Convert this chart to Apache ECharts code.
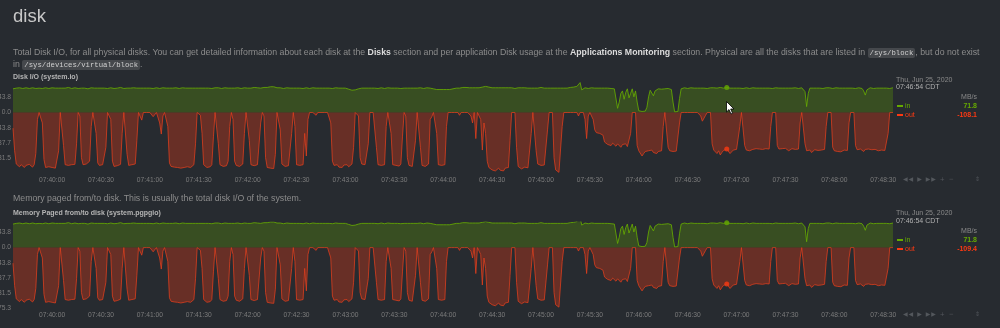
<!DOCTYPE html>
<html>
<head>
<meta charset="utf-8">
<script src="https://cdn.jsdelivr.net/npm/echarts@6/dist/echarts.min.js"></script>
<style>
  body { margin:0; background:#272b30; font-family:"Liberation Sans", Arial, sans-serif; }
  #main { position:absolute; left:0; top:0; width:1000px; height:328px; }
  .t { position:absolute; white-space:nowrap; }
  .desc { left:13px; font-size:8.75px; line-height:11.7px; color:#8c8c8c; }
  .desc b { color:#dcdcdc; }
  .code { font-family:"Liberation Mono", monospace; font-size:7.3px; background:#45484c; color:#d0d0d0; padding:1px 2px; border-radius:2px; }
  .ctitle { left:13px; font-size:7px; font-weight:bold; color:#b4b4b4; line-height:10px; }
  .side { left:896px; font-size:7px; color:#8a8a8a; line-height:9px; }
  .unit { left:940px; width:37px; text-align:right; font-size:7px; color:#8a8a8a; line-height:9px; }
  .lg { left:897px; font-size:7px; line-height:9px; }
  .lg i { display:inline-block; width:6px; height:2px; vertical-align:middle; margin-right:2px; }
  .val { left:930px; width:47px; text-align:right; font-size:7px; font-weight:bold; line-height:9px; }
  .ctrl { left:903px; font-family:"DejaVu Sans", sans-serif; font-size:6px; color:#53575c; line-height:9px; letter-spacing:1px; }
</style>
</head>
<body>
<div id="main"></div>

<div class="t" style="left:13px;top:6px;font-size:18.5px;line-height:20px;color:#c8c8c8">disk</div>
<div class="t desc" style="top:46.5px">Total Disk I/O, for all physical disks. You can get detailed information about each disk at the <b>Disks</b> section and per application Disk usage at the <b>Applications Monitoring</b> section. Physical are all the disks that are listed in <span class="code">/sys/block</span>, but do not exist<br>in <span class="code">/sys/devices/virtual/block</span>.</div>
<div class="t ctitle" style="top:72.3px">Disk I/O (system.io)</div>

<div class="t side" style="top:74.5px">Thu, Jun 25, 2020</div>
<div class="t side" style="top:82.2px;color:#b0b0b0">07:46:54 CDT</div>
<div class="t unit" style="top:92.2px">MB/s</div>
<div class="t lg" style="top:100.5px;color:#66aa00"><i style="background:#66aa00"></i>in</div>
<div class="t val" style="top:100.5px;color:#66aa00">71.8</div>
<div class="t lg" style="top:109.5px;color:#fe3912"><i style="background:#fe3912"></i>out</div>
<div class="t val" style="top:109.5px;color:#fe3912">-108.1</div>
<div class="t ctrl" style="top:173.5px">◀◀ ▶ ▶▶ + −</div>
<div class="t ctrl" style="top:173.5px;left:975px">⇕</div>

<div class="t desc" style="top:193.2px">Memory paged from/to disk. This is usually the total disk I/O of the system.</div>
<div class="t ctitle" style="top:207.7px">Memory Paged from/to disk (system.pgpgio)</div>

<div class="t side" style="top:207.8px">Thu, Jun 25, 2020</div>
<div class="t side" style="top:215.5px;color:#b0b0b0">07:46:54 CDT</div>
<div class="t unit" style="top:225.5px">MB/s</div>
<div class="t lg" style="top:234.8px;color:#66aa00"><i style="background:#66aa00"></i>in</div>
<div class="t val" style="top:234.8px;color:#66aa00">71.8</div>
<div class="t lg" style="top:243.8px;color:#fe3912"><i style="background:#fe3912"></i>out</div>
<div class="t val" style="top:243.8px;color:#fe3912">-109.4</div>
<div class="t ctrl" style="top:308.5px">◀◀ ▶ ▶▶ + −</div>
<div class="t ctrl" style="top:308.5px;left:975px">⇕</div>

<svg class="t" style="left:726px;top:101px" width="9" height="14" viewBox="0 0 9 14">
  <path d="M0.5 0.5 L0.5 11 L3 8.6 L5 13 L6.6 12.3 L4.7 8 L8 8 Z" fill="#ffffff" stroke="#000000" stroke-width="0.8"/>
</svg>

<script>
// one sample per second, starting at 07:39:36
var startSec = 7 * 3600 + 39 * 60 + 36;
var sampleCount = 541;
var hoverIndex = 438; // 07:46:54

// MB/s read (in)
var inValues = [
  68,69,70,69,71,70,69,70,71,70,
  69,70,71,70,69,70,70,71,69,70,
  71,70,69,70,71,70,70,69,70,71,
  70,69,70,71,72,70,69,70,71,70,
  69,70,70,71,70,69,68,70,71,70,
  70,71,70,69,70,71,70,70,69,70,
  71,70,69,70,70,71,72,70,69,70,
  70,71,70,69,71,70,70,69,70,71,
  70,69,70,71,70,70,69,70,71,70,
  69,70,71,70,70,69,70,71,70,70,
  71,70,69,70,71,70,70,69,70,71,
  70,69,70,71,70,71,70,69,70,71,
  70,70,69,70,71,70,71,70,69,70,
  71,70,70,69,70,71,70,70,71,70,
  69,70,71,70,70,69,70,71,72,70,
  71,70,70,71,72,71,72,73,74,76,
  74,72,71,70,71,70,69,70,71,70,
  70,71,70,69,70,71,70,70,69,70,
  71,70,69,70,71,70,70,69,70,71,
  70,69,70,71,70,70,69,70,71,70,
  70,71,70,69,70,68,67,66,64,62,
  65,67,68,69,70,69,70,71,70,69,
  70,71,70,70,69,70,71,70,69,70,
  71,70,70,69,70,71,70,70,69,70,
  70,71,70,69,70,71,70,69,70,70,
  71,70,69,70,71,70,70,69,68,67,
  66,65,66,65,66,67,66,65,66,67,
  68,69,70,71,70,71,72,73,72,71,
  71,70,71,72,71,70,71,72,73,74,
  75,74,73,72,71,72,71,70,71,72,
  71,70,71,72,71,70,71,70,69,70,
  71,70,71,72,71,70,70,71,70,69,
  70,71,70,71,72,71,70,71,70,71,
  70,69,70,71,70,71,70,69,70,71,
  70,71,72,74,73,78,75,80,86,65,
  70,71,70,69,70,71,70,70,69,70,
  71,70,69,70,71,70,70,69,70,68,
  66,12,30,55,62,38,58,68,42,55,
  68,45,62,30,5,2,3,1,4,15,
  45,64,66,48,62,67,68,66,67,69,
  68,67,69,66,66,30,2,2,3,40,
  68,70,71,70,69,70,71,70,70,71,
  70,69,70,71,70,70,69,70,71,70,
  71,70,70,71,72,71,70,71,71.8,71,
  70,71,70,69,70,71,70,70,69,70,
  71,70,69,70,71,70,70,69,70,71,
  70,69,70,71,70,70,69,70,71,70,
  70,71,70,69,70,71,70,69,70,70,
  71,70,69,70,71,70,60,17,55,70,
  71,70,69,70,71,70,70,69,70,71,
  70,71,70,69,70,71,70,70,69,70,
  71,70,69,70,71,70,70,69,70,71,
  70,69,62,50,65,70,71,70,69,70,
  70,71,70,69,70,71,70,70,69,70,
  71
];

// MB/s written (out)
var outValues = [
  -45,-110,-148,-153,-156,-150,-155,-158,-152,-155,
  -149,-154,-157,-150,-118,-20,0,0,-30,-135,
  -158,-160,-156,-161,-158,-155,-160,-157,-110,0,
  0,-95,-150,-155,-152,-156,-150,-153,-149,-90,
  0,-10,-130,-150,-145,-148,-152,-140,-40,0,
  0,-60,-145,-152,-155,-150,-153,-100,0,0,
  -20,-140,-155,-150,-153,-156,-149,-60,0,0,
  -120,-152,-155,-150,-154,-148,-80,0,0,-22,
  0,0,0,0,0,0,-12,-10,0,0,
  -30,-62,-10,0,0,-40,-145,-155,-160,-157,
  -162,-158,-155,-160,-163,-158,-161,-156,-160,-158,
  -155,-150,-90,0,0,-8,-60,-150,-155,-158,
  -153,-156,-150,-70,0,0,-90,-150,-152,-155,
  -150,-153,-140,-40,0,-20,-140,-152,-150,-155,
  -153,-148,-60,0,0,-80,-150,-155,-153,-158,
  -150,-145,-30,0,-10,-130,-158,-162,-160,-157,
  -161,-120,0,0,-50,-148,-152,-155,-150,-153,
  -149,-60,0,-40,-150,-155,-152,-156,-150,-60,
  -125,-20,0,0,0,0,-8,0,0,0,
  0,0,0,0,0,-30,-140,-152,-155,-150,
  -157,-153,-158,-151,-155,-150,-156,-152,-148,-100,
  0,0,-10,-130,-148,-145,-150,-147,-90,0,
  0,0,0,-100,-150,-155,-152,-157,-150,-40,
  0,0,-60,-150,-155,-152,-150,-154,-148,-70,
  0,-10,-130,-152,-150,-155,-150,-80,0,0,
  -100,-152,-150,-155,-151,-148,-20,-12,0,0,
  -60,-150,-155,-152,-154,-150,-40,0,0,0,
  0,0,0,0,-8,0,0,0,0,0,
  0,-10,-30,0,-75,0,0,-20,-108,-30,
  -60,-140,-158,-162,-165,-160,-168,-163,-160,-166,
  -162,-168,-160,-164,-158,-80,0,0,0,-100,
  -155,-158,-162,-160,-157,-161,-159,-155,-60,0,
  0,-110,-148,-150,-152,-147,-151,-149,-50,0,
  0,0,-130,-165,-170,-172,-168,-40,0,0,
  0,0,0,0,0,0,0,-10,0,0,
  0,-20,-75,-10,0,0,-20,-50,-58,-55,
  -60,-57,-65,-85,-88,-92,-90,-95,-88,-93,
  -97,-90,-94,-100,-92,-96,-90,-98,-93,-60,
  0,0,0,-95,-110,-115,-125,-118,-112,-115,
  -110,-113,-108,-115,-111,-118,-112,-109,-110,-40,
  0,0,-100,-110,-108,-112,-109,-111,-107,-30,
  0,0,0,0,0,0,0,0,0,0,
  0,0,-10,-25,-22,-8,0,0,0,-90,
  -108,-112,-118,-110,-122,-115,-109,-112,-105,-110,
  -118,-113,-108,-112,-106,-110,-40,0,0,-95,
  -108,-105,-110,-107,-106,-109,-104,-108,-105,-110,
  -106,-108,-104,-107,-105,-40,0,0,0,-95,
  -105,-108,-104,-107,-103,-106,-110,-105,-104,-108,
  -106,-103,-105,-30,0,0,-90,-110,-113,-108,
  -115,-110,-107,-112,-109,-114,-108,-111,-106,-40,
  0,0,0,-100,-110,-108,-112,-109,-113,-110,
  -108,-111,-109,-30,0,0,0,-95,-107,-110,
  -105,-108,-112,-106,-109,-105,-110,-107,-111,-106,
  -108,-110,-105,-108,-106,-109,-107,-60,0,0,
  0
];

// both charts show the same curves
var pgInValues = inValues;
var pgOutValues = outValues;

var timeLabels = [];
for (var i = 0; i < sampleCount; i++) {
  var s = startSec + i;
  var hh = Math.floor(s / 3600), mm = Math.floor(s / 60) % 60, ss = s % 60;
  timeLabels.push((hh < 10 ? '0' : '') + hh + ':' + (mm < 10 ? '0' : '') + mm + ':' + (ss < 10 ? '0' : '') + ss);
}

var chart = echarts.init(document.getElementById('main'));

var labelFont = { fontFamily: 'Liberation Sans', fontSize: 6.7, color: '#7c7c7c' };

function xAxisFor(idx) {
  return {
    type: 'category', gridIndex: idx, data: timeLabels, boundaryGap: false,
    axisLine: { show: false }, axisTick: { show: false }, splitLine: { show: false },
    axisLabel: Object.assign({
      margin: 3,
      interval: function (i) { return i >= 24 && (i - 24) % 30 === 0; }
    }, labelFont)
  };
}
function yAxisFor(idx, max, showMin) {
  return {
    type: 'value', gridIndex: idx, min: -175.32, max: max, interval: 43.83,
    axisLine: { show: false }, axisTick: { show: false }, splitLine: { show: false },
    axisLabel: Object.assign({
      margin: 2, showMinLabel: showMin, showMaxLabel: false,
      formatter: function (v) { return Math.abs(v) < 0.01 ? '0.0' : v.toFixed(1); }
    }, labelFont)
  };
}
function lineSeries(idx, data, color, fill) {
  return {
    type: 'line', xAxisIndex: idx, yAxisIndex: idx, data: data,
    showSymbol: false, symbol: 'none', lineStyle: { width: 1, color: color },
    areaStyle: { color: fill, opacity: 1 }, silent: true
  };
}
function dotSeries(idx, data, color) {
  return {
    type: 'scatter', xAxisIndex: idx, yAxisIndex: idx, symbolSize: 5,
    itemStyle: { color: color }, data: [[hoverIndex, data[hoverIndex]]], silent: true
  };
}

var option = {
  animation: false,
  backgroundColor: 'transparent',
  grid: [
    { left: 13, top: 82, width: 880, height: 91.5, outerBoundsMode: 'none' },
    { left: 13, top: 222, width: 880, height: 86.3, outerBoundsMode: 'none' }
  ],
  xAxis: [xAxisFor(0), xAxisFor(1)],
  yAxis: [yAxisFor(0, 87.66, false), yAxisFor(1, 74, true)],
  series: [
    lineSeries(0, inValues, 'rgba(102,170,0,0.85)', 'rgba(102,170,0,0.28)'),
    lineSeries(0, outValues, 'rgba(230,64,30,0.75)', 'rgba(254,57,18,0.3)'),
    dotSeries(0, inValues, '#66aa00'),
    dotSeries(0, outValues, '#fe3912'),
    lineSeries(1, pgInValues, 'rgba(102,170,0,0.85)', 'rgba(102,170,0,0.28)'),
    lineSeries(1, pgOutValues, 'rgba(230,64,30,0.75)', 'rgba(254,57,18,0.3)'),
    dotSeries(1, pgInValues, '#66aa00'),
    dotSeries(1, pgOutValues, '#fe3912')
  ]
};

chart.setOption(option);
</script>
</body>
</html>
